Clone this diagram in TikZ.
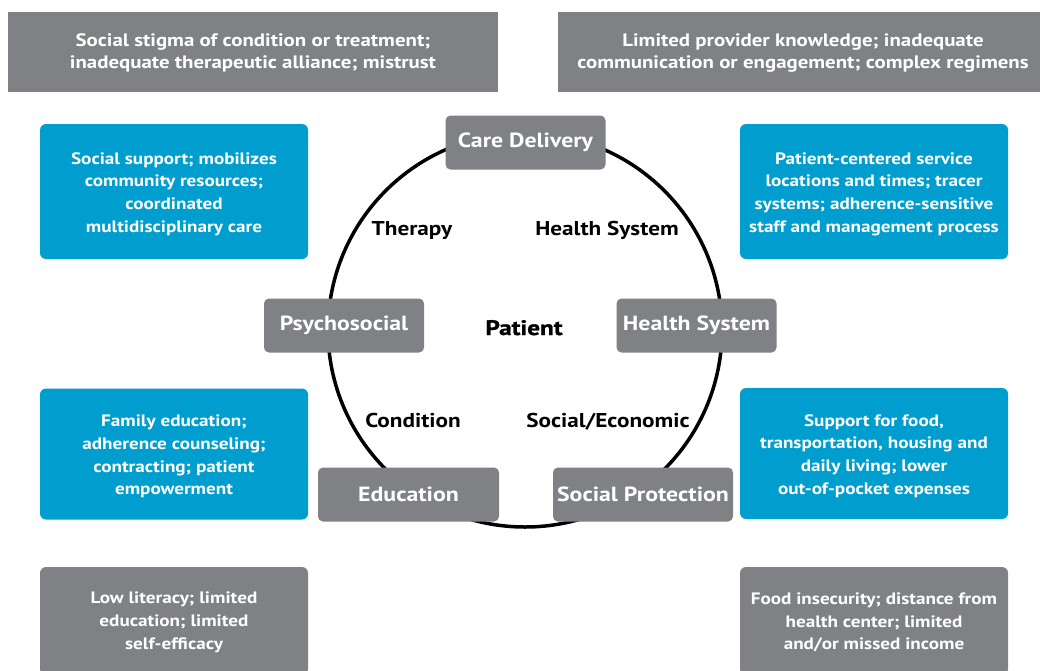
\documentclass[tikz,border=0pt]{standalone}
\usepackage{fontspec}
\setmainfont[FakeStretch=1.16]{PT Sans}
\newfontfamily\heavyfont[FakeStretch=1.2,FakeBold=1.2]{PT Sans}
\definecolor{boxgray}{RGB}{128,129,133}
\definecolor{boxblue}{RGB}{0,158,206}
\begin{document}
\begin{tikzpicture}[x=1pt,y=-1pt,
  topbox/.style={fill=boxgray, inner sep=0pt},
  toptext/.style={text=white, align=center, inner sep=0pt,
    font=\fontsize{18}{22.5}\selectfont\bfseries},
  bluebox/.style={fill=boxblue, inner sep=0pt, rounded corners=6pt, minimum width=268pt},
  lowbox/.style={fill=boxgray, inner sep=0pt, rounded corners=6pt,
    minimum width=268pt, minimum height=108pt},
  boxtext/.style={text=white, align=center, inner sep=0pt,
    font=\fontsize{16.5}{22.7}\selectfont\bfseries},
  ringbox/.style={fill=boxgray, text=white, align=center, inner sep=0pt,
    rounded corners=5pt, minimum height=54pt,
    font=\fontsize{20.5}{24}\selectfont\bfseries},
  ringlabel/.style={text=black, anchor=base, font=\fontsize{20}{24}\selectfont\bfseries},
]
\useasboundingbox[fill=white] (0,0) rectangle (1040,670);

% top gray boxes
\node[topbox, minimum width=490pt, minimum height=80pt] (tl) at (253,52) {};
\node[toptext] (tlt) at (253,53)
  {Social stigma of condition or treatment;\\inadequate therapeutic alliance; mistrust};
\node[topbox, minimum width=482pt, minimum height=80pt] (tr) at (799,52) {};
\node[toptext] (trt) at (803,53)
  {Limited provider knowledge; inadequate\\communication or engagement; complex regimens};

% blue boxes
\node[bluebox, minimum height=135pt] (btl) at (174,191.5) {};
\node[boxtext] (btlt) at (174,194)
  {Social support; mobilizes\\community resources;\\coordinated\\multidisciplinary care};
\node[bluebox, minimum height=135pt] (btr) at (874,191.5) {};
\node[boxtext] (btrt) at (874,194)
  {Patient-centered service\\locations and times; tracer\\systems; adherence-sensitive\\staff and management process};
\node[bluebox, minimum height=131pt] (bbl) at (174,454) {};
\node[boxtext] (bblt) at (174,456.5)
  {Family education;\\adherence counseling;\\contracting; patient\\empowerment};
\node[bluebox, minimum height=131pt] (bbr) at (874,453.5) {};
\node[boxtext] (bbrt) at (874,456)
  {Support for food,\\transportation, housing and\\daily living; lower\\out-of-pocket expenses};

% bottom gray boxes
\node[lowbox] (lbl) at (174,621) {};
\node[boxtext] (lblt) at (174,622.5)
  {Low literacy; limited\\education; limited\\self-efficacy};
\node[lowbox] (lbr) at (874,621) {};
\node[boxtext] (lbrt) at (874,622.5)
  {Food insecurity; distance from\\health center; limited\\and/or missed income};

% ring
\draw[line width=3.5pt] (525,330) circle[radius=197pt];

% ring boxes
\node[ringbox, minimum width=160pt] (care) at (525.5,142.5) {Care Delivery};
\node[ringbox, minimum width=160pt] (psy) at (344,325.5) {Psychosocial};
\node[ringbox, minimum width=160pt] (hs) at (696.5,325.5) {Health System};
\node[ringbox, minimum width=181pt] (edu) at (408.5,494.5) {Education};
\node[ringbox, minimum width=180pt] (sp) at (643,494.5) {Social Protection};

% ring labels
\node[ringlabel] (ther) at (412,235) {Therapy};
\node[ringlabel] (hsl) at (607,235) {Health System};
\node[ringlabel] (cond) at (413,427) {Condition};
\node[ringlabel] (soc) at (608,427) {Social/Economic};
\node[text=black, anchor=base, font=\heavyfont\fontsize{21}{24}\selectfont\bfseries] (pat) at (524,335) {Patient};
\end{tikzpicture}
\end{document}
